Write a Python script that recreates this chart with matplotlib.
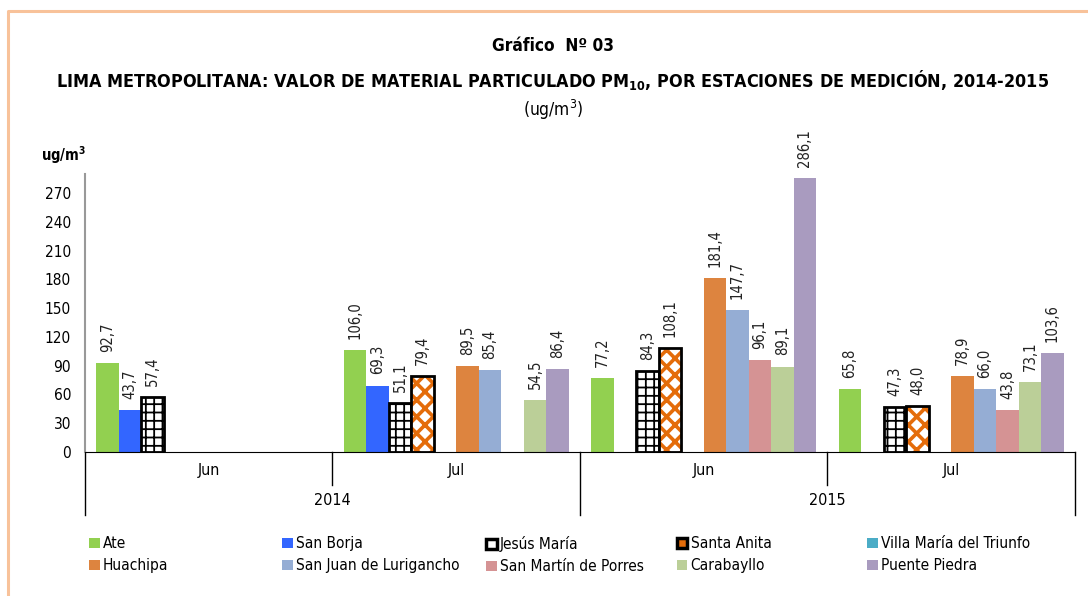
import matplotlib
matplotlib.use('Agg')
import matplotlib.pyplot as plt
from matplotlib.patches import Patch
from matplotlib import font_manager
import numpy as np

# datos
estaciones = ['Ate', 'San Borja', 'Jesús María', 'Santa Anita', 'Villa María del Triunfo',
              'Huachipa', 'San Juan de Lurigancho', 'San Martín de Porres', 'Carabayllo', 'Puente Piedra']
meses = ['Jun', 'Jul', 'Jun', 'Jul']
anios = ['2014', '2015']
nan = np.nan
jun_2014 = [92.7, 43.7, 57.4, nan, nan, nan, nan, nan, nan, nan]
jul_2014 = [106.0, 69.3, 51.1, 79.4, nan, 89.5, 85.4, nan, 54.5, 86.4]
jun_2015 = [77.2, nan, 84.3, 108.1, nan, 181.4, 147.7, 96.1, 89.1, 286.1]
jul_2015 = [65.8, nan, 47.3, 48.0, nan, 78.9, 66.0, 43.8, 73.1, 103.6]

colores = ['#92D050', '#3366FF', 'white', 'white', '#4BACC6',
           '#DD843F', '#95ADD4', '#D59394', '#BBCF98', '#A99BBF']

# fuente angosta si existe
condensada = [f for f in font_manager.fontManager.ttflist
              if f.name == 'DejaVu Sans' and str(f.stretch) in ('condensed', 'semi-condensed')]
if condensada:
    plt.rcParams['font.family'] = ['DejaVu Sans']
    plt.rcParams['font.stretch'] = 'condensed'
    fuente = 'DejaVu Sans'
    escala = 0.92
else:
    plt.rcParams['font.family'] = ['Liberation Sans', 'DejaVu Sans']
    fuente = 'Liberation Sans'
    escala = 1.0
plt.rcParams['mathtext.fontset'] = 'custom'
plt.rcParams['mathtext.rm'] = fuente
plt.rcParams['mathtext.bf'] = fuente + ':bold'
plt.rcParams['hatch.linewidth'] = 1.3

valores = np.array([jun_2014, jul_2014, jun_2015, jul_2015])
x = np.arange(len(meses))
ancho = 1 / 11

fig = plt.figure(figsize=(10.88, 5.96), dpi=100)
ax = fig.add_axes([0.0781, 0.2416, 0.9099, 0.4665])

for i, est in enumerate(estaciones):
    pos = x + (i - 4.5) * ancho
    vals = valores[:, i]
    if est == 'Jesús María':
        ax.bar(pos, vals, ancho, color='white', edgecolor='black', hatch='++', linewidth=0)
        ax.bar(pos, vals, ancho, fill=False, edgecolor='black', linewidth=2)
    elif est == 'Santa Anita':
        with plt.rc_context({'hatch.linewidth': 2.6}):
            ax.bar(pos, vals, ancho, color='white', edgecolor='#E46C0A', hatch='xx', linewidth=0)
        ax.bar(pos, vals, ancho, fill=False, edgecolor='black', linewidth=2)
    else:
        ax.bar(pos, vals, ancho, color=colores[i], linewidth=0)
    for px, v in zip(pos, vals):
        if not np.isnan(v):
            ax.annotate(f'{v:.1f}'.replace('.', ','), (px, v), xytext=(0, 8),
                        textcoords='offset points', rotation=90, ha='center', va='bottom',
                        fontsize=11.5 * escala, color='#222222')

ax.set_xlim(-0.5, 3.5)
ax.set_ylim(0, 290)
ax.set_yticks(range(0, 271, 30))
ax.tick_params(axis='y', length=0, pad=10, labelsize=12 * escala)
ax.set_xticks([])
for s in ['top', 'right']:
    ax.spines[s].set_visible(False)
ax.spines['left'].set_color('#999999')
ax.spines['left'].set_linewidth(1.5)
ax.spines['bottom'].set_color('black')

# ejes de categorias en dos niveles
tr = ax.get_xaxis_transform()
for b in [-0.5, 0.5, 1.5, 2.5, 3.5]:
    largo = -0.227 if b in (-0.5, 1.5, 3.5) else -0.119
    ax.plot([b, b], [0, largo], transform=tr, color='black', lw=1, clip_on=False)
for xi, m in zip(x, meses):
    ax.text(xi, -0.065, m, transform=tr, ha='center', va='center', fontsize=12.5 * escala)
for k, a in enumerate(anios):
    ax.text(2 * k + 0.5, -0.175, a, transform=tr, ha='center', va='center', fontsize=12.5 * escala)

# titulos
fig.text(0.508, 0.922, 'Gráfico  Nº 03', ha='center', va='center', fontsize=13.5 * escala, fontweight='bold')
fig.text(0.508, 0.866, r'LIMA METROPOLITANA: VALOR DE MATERIAL PARTICULADO PM$_{\mathbf{10}}$, POR ESTACIONES DE MEDICIÓN, 2014-2015',
         ha='center', va='center', fontsize=14 * escala, fontweight='bold')
fig.text(0.508, 0.815, r'(ug/m$^{3}$)', ha='center', va='center', fontsize=13.5 * escala)
fig.text(0.059, 0.74, r'ug/m$^{\mathbf{3}}$', ha='center', va='center', fontsize=11.5 * escala, fontweight='bold')

# leyenda en columnas
handles = []
for i, est in enumerate(estaciones):
    if est == 'Jesús María':
        handles.append(Patch(facecolor='white', edgecolor='black', linewidth=2.5))
    elif est == 'Santa Anita':
        handles.append(Patch(facecolor='#E46C0A', edgecolor='black', linewidth=2.5))
    else:
        handles.append(Patch(facecolor=colores[i], edgecolor='none'))
cols_x = [0.082, 0.259, 0.447, 0.622, 0.797]
for c in range(5):
    idx = [c, c + 5]
    fig.legend([handles[j] for j in idx], [estaciones[j] for j in idx],
               loc='upper left', bbox_to_anchor=(cols_x[c], 0.100), frameon=False,
               fontsize=12 * escala, handlelength=0.7, handleheight=0.7, handletextpad=0.2,
               labelspacing=0.45, borderaxespad=0, borderpad=0)

# marco
fig.add_artist(plt.Line2D([0.0074, 0.0074, 1.0], [0.0, 0.9815, 0.9815], transform=fig.transFigure,
                          color='#F8C29A', lw=2.2))

fig.savefig('out.png', dpi=100)
